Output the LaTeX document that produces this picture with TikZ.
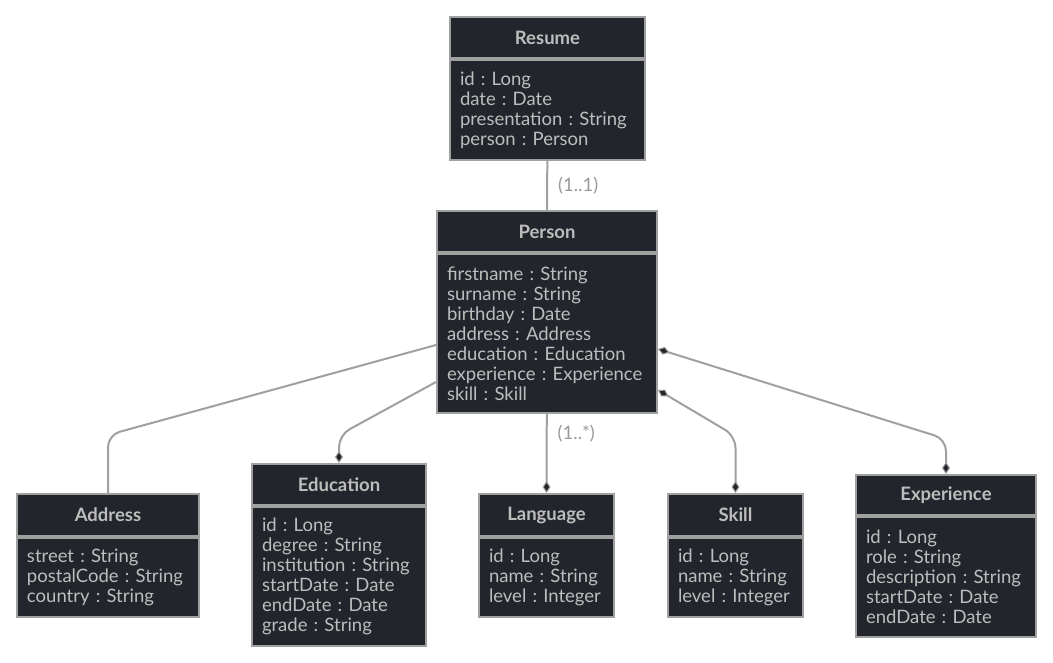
\documentclass[tikz,border=0pt]{standalone}
\usepackage{fontspec}
\setmainfont{Lato}
\usetikzlibrary{arrows.meta,positioning,calc}
\definecolor{cfill}{HTML}{22252B}
\definecolor{cedge}{HTML}{A0A0A0}
\definecolor{ctext}{HTML}{BDBDBD}
\definecolor{clbl}{HTML}{9A9A9A}
\frenchspacing
\tikzset{
  title/.style={draw=cedge,fill=cfill,line width=2pt,minimum height=41pt,text=ctext,
                font=\fontsize{18.5}{20}\selectfont\bfseries,inner sep=0pt},
  attrs/.style={draw=cedge,fill=cfill,line width=2pt,align=left,text=ctext,anchor=north,
                font=\fontsize{18.5}{20}\selectfont,inner xsep=10pt,inner ysep=0pt},
  link/.style={draw=cedge,line width=2pt,rounded corners=12pt},
  dmd/.tip={Diamond[length=12pt,width=8pt,fill=cfill,line width=1pt]},
  lbl/.style={text=clbl,font=\fontsize{18.5}{20}\selectfont,inner sep=10pt},
}
\begin{document}
\begin{tikzpicture}[x=1pt,y=-1pt]
\useasboundingbox[fill=white] (0,0) rectangle (1053,662);
% classes
\node[title,minimum width=195pt] (resume) at (547.5,37.5) {Resume};
\node[attrs,text width=175pt,minimum height=100pt] (resumeA) at (resume.south)
  {id : Long\\date : Date\\presentation : String\\person : Person};
\node[title,minimum width=220pt] (person) at (547,231.5) {Person};
\node[attrs,text width=200pt,minimum height=159pt] (personA) at (person.south)
  {firstname : String\\surname : String\\birthday : Date\\address : Address\\education : Education\\experience : Experience\\skill : Skill};
\node[title,minimum width=182pt,minimum height=42pt] (address) at (108,515) {Address};
\node[attrs,text width=162pt,minimum height=79pt] (addressA) at (address.south)
  {street : String\\postalCode : String\\country : String};
\node[title,minimum width=174pt] (education) at (339,484.5) {Education};
\node[attrs,text width=154pt,minimum height=139pt] (educationA) at (education.south)
  {id : Long\\degree : String\\institution : String\\startDate : Date\\endDate : Date\\grade : String};
\node[title,minimum width=135pt,minimum height=42pt] (language) at (546.5,515) {Language};
\node[attrs,text width=115pt,minimum height=79pt] (languageA) at (language.south)
  {id : Long\\name : String\\level : Integer};
\node[title,minimum width=135pt,minimum height=42pt] (skill) at (735.5,515) {Skill};
\node[attrs,text width=115pt,minimum height=79pt] (skillA) at (skill.south)
  {id : Long\\name : String\\level : Integer};
\node[title,minimum width=180pt,minimum height=40pt] (experience) at (946,495) {Experience};
\node[attrs,text width=160pt,minimum height=120pt] (experienceA) at (experience.south)
  {id : Long\\role : String\\description : String\\startDate : Date\\endDate : Date};
% relations
\draw[link] (resumeA) -- node[lbl,right]{(1..1)} (person);
\draw[link,-dmd] (personA) -- node[lbl,right,pos=0.25]{(1..*)} (language);
\draw[link] ($(personA.west)+(0,11.5)$) -- ($(address.north)+(0,-58)$) -- (address.north);
\draw[link,-dmd] ($(personA.west)+(0,48.5)$) -- ($(education.north)+(0,-28)$) -- (education.north);
\draw[link,dmd-dmd] ($(personA.east)+(0,56.5)$) -- ($(skill.north)+(0,-57)$) -- (skill.north);
\draw[link,dmd-dmd] ($(personA.east)+(0,15.5)$) -- ($(experience.north)+(0,-35)$) -- (experience.north);
\end{tikzpicture}
\end{document}
